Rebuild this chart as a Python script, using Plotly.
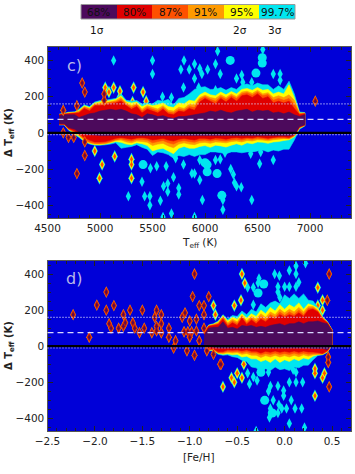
import plotly.graph_objects as go

LEVELS = ["68%", "80%", "87%", "91%", "95%", "99.7%"]
LEVEL_IDX = [0, 1, 2, 3, 4, 5]
COLORS = ["#4c0a5c", "#e00000", "#ff5000", "#ff9a00", "#ffff00", "#00e6f0"]
BLUE = "#0000d8"

# Panel c
C_X = [4610,4660,4700,4760,
       4800,4850,4900,4950,5000,5050,5100,5150,5200,5250,
       5300,5350,5400,5450,5500,5550,5600,5650,5700,5750,
       5800,5850,5900,5950,6000,6050,6100,6150,6200,6250,
       6300,6350,6400,6450,6500,6550,6600,6650,6700,6750,
       6800,6850,6900,6950]
C_UP = {
 "purple":[95,100,100,100,
   85,95,105,110,120,125,130,125,130,120,
   105,100,85,105,100,90,95,85,80,90,
   90,95,100,105,110,120,115,125,115,110,
   120,125,130,115,125,120,125,110,115,105,
   115,100,90,100],
 "red":[100,103,105,108,
   110,135,120,150,150,155,160,165,175,150,
   130,145,110,130,120,110,130,105,100,120,
   115,135,125,170,190,175,160,190,170,195,
   175,205,210,195,215,190,200,165,175,165,
   175,135,100,105],
 "redorange":[100,104,107,110,
   115,140,130,155,158,162,168,172,185,158,
   140,155,120,140,130,120,140,115,110,130,
   125,145,140,185,200,185,175,200,185,205,
   190,215,222,208,225,205,212,180,190,180,
   190,160,105,107],
 "orange":[101,105,110,112,
   120,145,135,160,165,168,172,178,195,165,
   150,162,130,150,140,132,150,125,120,142,
   135,158,155,195,208,195,190,210,195,215,
   200,225,230,218,235,215,222,195,205,195,
   210,180,108,109],
 "yellow":[102,106,112,114,
   125,150,140,165,172,175,178,185,205,172,
   165,170,145,158,150,155,165,145,140,165,
   160,180,175,210,225,210,205,225,210,228,
   215,240,245,235,250,235,240,215,225,215,
   265,195,110,110],
 "cyan":[103,108,114,116,
   130,155,145,170,178,180,185,190,215,180,
   175,178,160,165,160,180,175,185,155,190,
   195,215,240,250,255,240,240,250,235,250,
   240,265,270,260,275,265,265,240,260,240,
   285,215,115,112],
}
C_LO = {
 "purple":[50,50,30,20,
   5,-5,-10,-12,-15,-15,-15,-15,-15,-15,
   -15,-15,-15,-15,-15,-15,-15,-15,-15,-15,
   -15,-15,-15,-15,-15,-15,-15,-15,-15,-15,
   -15,-15,-15,-15,-15,-15,-15,-15,-15,-15,
   -15,-10,35,45],
 "red":[48,48,25,10,
   -5,-25,-40,-50,-50,-48,-40,-30,-25,-30,
   -35,-28,-25,-30,-40,-35,-30,-40,-45,-35,
   -30,-35,-40,-30,-30,-35,-28,-30,-35,-28,
   -25,-30,-25,-28,-22,-25,-30,-25,-22,-22,
   -25,-12,32,43],
 "redorange":[47,47,22,5,
   -10,-35,-50,-58,-58,-55,-48,-38,-32,-40,
   -45,-35,-35,-40,-55,-48,-42,-55,-62,-48,
   -42,-48,-52,-42,-40,-45,-38,-42,-45,-38,
   -35,-40,-32,-35,-30,-32,-36,-30,-28,-28,
   -30,-15,30,42],
 "orange":[46,46,20,0,
   -15,-40,-55,-62,-62,-60,-52,-42,-40,-50,
   -55,-45,-48,-52,-70,-62,-58,-72,-82,-62,
   -55,-62,-65,-55,-52,-58,-50,-52,-55,-48,
   -45,-50,-42,-45,-38,-40,-44,-38,-35,-32,
   -34,-18,28,41],
 "yellow":[45,45,18,-5,
   -20,-45,-58,-65,-65,-62,-56,-48,-52,-62,
   -65,-55,-60,-70,-100,-90,-85,-100,-115,-85,
   -75,-85,-85,-75,-70,-80,-68,-72,-78,-68,
   -60,-68,-55,-60,-50,-52,-58,-50,-48,-42,
   -38,-22,25,40],
 "cyan":[44,44,15,-10,
   -25,-48,-62,-68,-68,-66,-62,-55,-85,-80,
   -75,-65,-80,-90,-125,-105,-110,-120,-140,-125,
   -130,-120,-130,-120,-120,-105,-105,-110,-115,-105,
   -105,-110,-105,-105,-100,-95,-105,-95,-100,-90,
   -90,-40,20,38],
}
C_CYAN_X = [5130,5500,5500,5800,5770,5850,5900,5900,5950,5970,6025,6100,6145,6120,6300,6350,6550,6650,6715,6715,6445,6360,5795,5940,5595,5680,6100,
            5480,5400,5270,5425,5475,5475,5575,5605,5645,5645,5700,5540,5630,5720,5795,5750,5750,5975,5900,5950,5875,5950,6100,6145,6190,6245,6270,6280,6300,6345,6170,6170,6445,6520,6650,6435,6530,5680,5600,5900]
C_CYAN_Y = [400,400,325,400,350,350,380,300,355,325,350,380,325,450,300,320,460,325,325,290,280,280,250,250,200,195,235,
            -195,-270,-350,-350,-350,-400,-375,-295,-280,-325,-245,-185,-185,-140,-175,-305,-340,-370,-225,-150,-225,-260,-150,-145,-110,-200,-230,-275,-295,-300,-370,-425,-370,-170,-150,-115,-105,-445,-465,-465]
C_BIG_X = [6240,6485,6545,6545,5410,6020,6020,6115,6160,6000]
C_BIG_Y = [400,330,415,385,-175,-175,-215,-225,-345,-165]
C_WARM_X = [5050,5085,5130,5190,5190,5320,5310,5410,5440,5300,5300,5300,5020,4995,4950,5140]
C_WARM_Y = [250,225,250,230,200,250,170,225,175,-145,-175,-250,-175,-250,-100,-130]
C_DARK_X = [4650,4650,4700,4750,4830,4855,4780,4780,4855,4855,7050,5040,5040]
C_DARK_Y = [125,0,-25,-25,275,225,150,-225,-125,-50,175,215,180]

# Panel d
D_X = [-0.85,-0.8,-0.75,-0.7,-0.65,-0.6,-0.55,-0.5,-0.45,-0.4,-0.35,-0.3,-0.25,-0.2,-0.15,-0.1,-0.05,0,0.05,0.1,0.15,0.2,0.25,0.3,0.35,0.4,0.45,0.5]
D_UP = {
 "cyan":[78,118,125,140,175,150,170,165,195,175,205,190,235,215,240,250,235,285,265,290,265,290,255,250,215,165,138,92],
 "yellow":[76,116,122,135,170,140,160,150,180,155,180,165,200,180,215,195,230,205,230,215,240,205,235,225,210,160,136,91],
 "orange":[74,114,120,130,165,130,150,135,170,140,165,150,180,160,190,175,205,185,205,190,215,190,220,220,200,158,134,90],
 "redorange":[72,112,118,125,160,120,140,125,165,130,155,135,165,145,175,160,190,170,190,175,200,175,210,212,195,155,132,89],
 "red":[70,110,115,120,150,110,130,115,155,120,145,125,150,135,160,150,175,160,175,165,185,165,200,205,190,150,130,88],
 "purple":[60,100,105,105,135,100,105,95,115,110,115,105,110,105,115,120,125,115,125,125,135,125,135,135,140,130,125,85],
}
D_LO = {
 "cyan":[1,-25,-25,-45,-50,-48,-58,-62,-78,-85,-115,-120,-145,-125,-135,-115,-130,-125,-135,-115,-120,-105,-105,-75,-52,-48,-34,4],
 "yellow":[2,-22,-22,-40,-45,-42,-48,-45,-60,-55,-70,-70,-85,-75,-90,-70,-90,-75,-85,-70,-80,-65,-72,-55,-48,-46,-32,5],
 "orange":[3,-20,-20,-38,-40,-35,-38,-35,-45,-40,-50,-50,-62,-52,-60,-50,-60,-52,-60,-50,-58,-48,-55,-48,-45,-44,-30,6],
 "redorange":[4,-18,-18,-35,-35,-28,-30,-28,-35,-30,-38,-38,-48,-40,-46,-38,-46,-40,-46,-38,-45,-38,-44,-42,-42,-42,-28,7],
 "red":[5,-15,-15,-30,-30,-20,-22,-20,-25,-20,-28,-28,-38,-28,-34,-26,-34,-28,-34,-26,-34,-26,-32,-32,-35,-40,-25,8],
 "purple":[10,0,-5,-10,-10,-10,-10,-10,-10,-10,-10,-10,-10,-10,-10,-10,-10,-10,-10,-10,-10,-10,-10,-12,-12,-12,-20,10],
}
D_CYAN_X = [-0.39,-0.33,-0.28,-0.27,-0.105,-0.055,-0.07,0.05,0.12,0.12,0.22,0,0.05,0.12,0.15,-0.07,-0.05,-0.33,
            -0.39,-0.37,-0.33,-0.29,-0.17,-0.15,-0.17,-0.01,-0.01,-0.07,0.05,0.12,0.19,0.09,0.12,0.07,-0.12,-0.15,-0.06,-0.07,-0.03,0.02,0.11,0.18,-0.16,0.05,0.21,-0.3]
D_CYAN_Y = [325,325,350,375,400,390,330,420,445,400,460,330,330,330,355,300,270,230,
            -150,-210,-170,-190,-145,-220,-250,-245,-275,-220,-200,-200,-200,-130,-145,-300,-300,-345,-325,-370,-345,-345,-345,-345,-395,-428,-450,-470]
D_BIG_X = [-0.22,-0.28,-0.25,-0.21,-0.13]
D_BIG_Y = [345,295,-145,-300,-370]
D_WARM_X = [-0.75,-0.73,-0.53,-0.46,-0.42,-0.45,0.40,0.35,0.35,0.40,-0.65,-0.56,-0.5,-0.53,-0.45,-0.43,0.32,0.32,0.32,0.40,0.42]
D_WARM_Y = [225,175,225,255,350,400,200,325,225,255,-225,-175,-150,-200,-175,-100,-275,-125,-150,-175,-150]
D_DARK_X = [-2.23,-2.06,-1.98,-1.88,-1.88,-1.85,-1.83,-1.80,-1.75,-1.70,-1.70,-1.68,-1.63,-1.60,-1.58,-1.53,-1.50,-1.48,-1.40,-1.37,-1.35,-1.35,-1.35,-1.30,-1.30,-1.30,-1.22,-1.22,-1.15,-1.17,-1.08,-1.05,-1.0,-1.0,-1.03,-0.95,-0.93,-0.97,-0.95,-0.90,-0.85,-0.85,-0.85,-0.93,-0.9,-0.8,-0.82,-0.75,-0.68,-0.67,0.47,0.45,0.47,0.46,0.46,-1.06,-1.02,-0.98]
D_DARK_Y = [175,50,228,300,200,125,100,225,100,175,110,130,200,130,100,75,200,100,75,160,200,110,85,175,125,75,50,100,30,-10,160,185,140,50,-25,-50,150,275,400,225,225,175,100,85,30,275,-25,-45,-100,-100,400,255,-225,-60,-90,80,80,80]

X_TITLES = ["T<sub>eff</sub> (K)", "[Fe/H]"]
Y_TITLE = "\u0394 T<sub>eff</sub> (K)"
MEAN_LINE = 75
SIGMA_LINES = [160, -10]
SIGMA_NOTES = {0: "1\u03c3", 4: "2\u03c3", 5: "3\u03c3"}

W, H = 355, 474
fig = go.Figure()


def band(x, up, lo, color, xa, ya):
    assert len(x) == len(up) == len(lo), (len(x), len(up), len(lo))
    fig.add_trace(go.Scatter(x=x + x[::-1], y=up + lo[::-1], mode="lines", fill="toself",
                             fillcolor=color, line=dict(width=0.6, color=color, simplify=False, shape="linear"),
                             hoverinfo="skip", showlegend=False, xaxis=xa, yaxis=ya))


def dots(x, y, layers, xa, ya, symbol="diamond-tall"):
    for size, color in layers:
        fig.add_trace(go.Scatter(x=x, y=y, mode="markers",
                                 marker=dict(symbol=symbol, size=size, color=color, line=dict(width=0)),
                                 hoverinfo="skip", showlegend=False, xaxis=xa, yaxis=ya))


def panel(px, up, lo, cyan, big, warm, dark, xa, ya):
    dots(cyan[0], cyan[1], [(7.5, COLORS[5])], xa, ya)
    dots(big[0], big[1], [(9, COLORS[5])], xa, ya, "circle")
    dots(warm[0], warm[1], [(9, COLORS[5]), (7, COLORS[4]), (4.5, COLORS[2])], xa, ya)
    keys = ["cyan", "yellow", "orange", "redorange", "red", "purple"]
    cols = [COLORS[5], COLORS[4], COLORS[3], COLORS[2], COLORS[1], COLORS[0]]
    for k, c in zip(keys, cols):
        band(px, up[k], lo[k], c, xa, ya)
    dots(dark[0], dark[1], [(8.5, "#ff8a00"), (7, "#d82000"), (4, "#5a0a50")], xa, ya)


panel(C_X, C_UP, C_LO, (C_CYAN_X, C_CYAN_Y), (C_BIG_X, C_BIG_Y), (C_WARM_X, C_WARM_Y), (C_DARK_X, C_DARK_Y), "x", "y")
panel(D_X, D_UP, D_LO, (D_CYAN_X, D_CYAN_Y), (D_BIG_X, D_BIG_Y), (D_WARM_X, D_WARM_Y), (D_DARK_X, D_DARK_Y), "x2", "y2")

# legend strip
fig.add_trace(go.Heatmap(z=[LEVEL_IDX], x=LEVEL_IDX, y=[0], xaxis="x3", yaxis="y3", showscale=False,
                         colorscale=[[i / 5, c] for i, c in enumerate(COLORS)], hoverinfo="skip"))

FONT = "DejaVu Sans"
L, R = 47.5 / W, 351 / W


def dom(top, bot):
    return [1 - bot / H, 1 - top / H]


TXT = dict(family=FONT, size=10.5, color="#222")
axis_common = dict(showgrid=False, zeroline=False, showline=True, linecolor="#555", linewidth=1.2, mirror="ticks",
                   ticks="inside", ticklen=5, tickcolor="#222", tickwidth=1, tickfont=TXT, automargin=False)
minor = lambda d: dict(ticks="inside", ticklen=3, dtick=d, tickcolor="#222", tickwidth=1)
y_common = dict(axis_common, range=[-470, 474], tickvals=[-400, -200, 0, 200, 400], minor=minor(50))

fig.update_layout(
    width=W, height=H, margin=dict(l=0, r=0, t=0, b=0, pad=0), paper_bgcolor="white", plot_bgcolor=BLUE, autosize=False,
    showlegend=False,
    xaxis=dict(axis_common, domain=[L, R], range=[4500, 7390], tickvals=[4500, 5000, 5500, 6000, 6500, 7000], minor=minor(100), anchor="y"),
    yaxis=dict(y_common, domain=dom(47, 218), anchor="x"),
    xaxis2=dict(axis_common, domain=[L, R], range=[-2.5, 0.7], tickvals=[-2.5, -2, -1.5, -1, -0.5, 0, 0.5],
                tickformat=".1f", minor=minor(0.1), anchor="y2"),
    yaxis2=dict(y_common, domain=dom(260.7, 431), anchor="x2"),
    xaxis3=dict(domain=[81 / W, 295 / W], showticklabels=False, showline=False, ticks="", showgrid=False,
                zeroline=False, anchor="y3", range=[-0.5, 5.5], automargin=False),
    yaxis3=dict(domain=dom(4.5, 19), showticklabels=False, showline=False, ticks="", showgrid=False,
                zeroline=False, anchor="x3", range=[-0.5, 0.5], automargin=False),
)
fig.add_shape(type="rect", xref="paper", yref="paper", x0=81 / W, x1=295 / W, y0=1 - 19 / H, y1=1 - 4.5 / H,
              line=dict(color="#999", width=1))


def note(px, py, text, font, angle=0):
    fig.add_annotation(x=px / W, y=1 - py / H, xref="paper", yref="paper", xanchor="center", yanchor="middle",
                       text=text, showarrow=False, font=font, textangle=angle)


cell = (295 - 81) / 6
LEG = dict(family=FONT, size=10.5, color="#111")
for i, lab in zip(LEVEL_IDX, LEVELS):
    note(81 + (i + 0.5) * cell, 12, lab, LEG)
for i, lab in SIGMA_NOTES.items():
    note(81 + (i + 0.5) * cell - 2, 30, lab, LEG)

note(199, 243, X_TITLES[0], TXT)
note(199, 457, X_TITLES[1], TXT)
YT = dict(family=FONT, size=10, color="#222", weight="bold")
note(9, 133, Y_TITLE, YT, -90)
note(9, 346, Y_TITLE, YT, -90)

for xa, ya in (("x", "y"), ("x2", "y2")):
    fig.add_shape(type="line", xref=f"{xa} domain", yref=ya, x0=0, x1=1, y0=0, y1=0, line=dict(color="black", width=2.2))
    fig.add_shape(type="line", xref=f"{xa} domain", yref=ya, x0=0, x1=1, y0=MEAN_LINE, y1=MEAN_LINE,
                  line=dict(color="#d8d8ff", width=1.2, dash="6px,4px"))
    for v in SIGMA_LINES:
        fig.add_shape(type="line", xref=f"{xa} domain", yref=ya, x0=0, x1=1, y0=v, y1=v,
                      line=dict(color="#d8d8ff", width=1.2, dash="1px,2px"))

LAB = dict(family=FONT, size=16, color="#b8b8e8")
note(74, 65, "c)", LAB)
note(74, 278, "d)", LAB)

fig.write_html("out.html", config={"displayModeBar": False}, post_script="document.body.style.margin='0';")
